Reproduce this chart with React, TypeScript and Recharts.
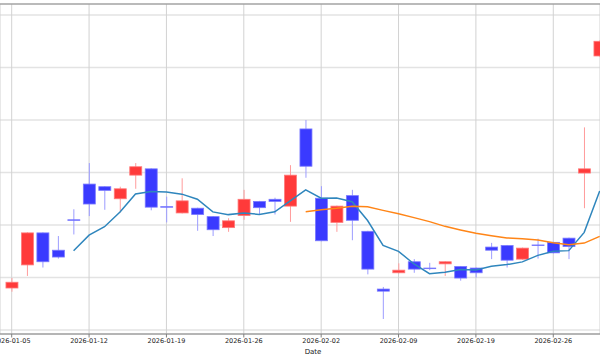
import React from 'react';
import {
  ComposedChart,
  Bar,
  Line,
  XAxis,
  YAxis,
  CartesianGrid,
  ReferenceLine
} from 'recharts';

// trading days shown on the chart
const dates = [
  '2026-01-05', '2026-01-06', '2026-01-07', '2026-01-08', '2026-01-09',
  '2026-01-12', '2026-01-13', '2026-01-14', '2026-01-15', '2026-01-16',
  '2026-01-19', '2026-01-20', '2026-01-21', '2026-01-22', '2026-01-23',
  '2026-01-26', '2026-01-27', '2026-01-28', '2026-01-29', '2026-01-30',
  '2026-02-02', '2026-02-03', '2026-02-04', '2026-02-05', '2026-02-06',
  '2026-02-09', '2026-02-10', '2026-02-11', '2026-02-12', '2026-02-13',
  '2026-02-19', '2026-02-20', '2026-02-23', '2026-02-24', '2026-02-25',
  '2026-02-26', '2026-02-27', '2026-03-02', '2026-03-03'
];

const open = [
  10.80, 11.24, 11.85, 11.52, 12.10, 12.78, 12.73, 12.50, 12.95, 13.07,
  12.35, 12.23, 12.32, 12.16, 11.95, 12.18, 12.45, 12.49, 12.36, 13.83,
  12.51, 12.05, 12.56, 11.88, 10.78, 11.09, 11.30, 11.18, 11.26, 11.21,
  11.18, 11.58, 11.61, 11.35, 11.62, 11.67, 11.75, 12.99, 15.22
];
const high = [
  10.99, 11.86, 11.86, 11.79, 12.30, 13.18, 12.74, 12.73, 13.18, 13.08,
  12.54, 12.89, 12.33, 12.17, 12.13, 12.67, 12.46, 12.52, 13.14, 14.00,
  12.74, 12.37, 12.67, 11.89, 10.82, 11.27, 11.35, 11.28, 11.31, 11.22,
  11.19, 11.66, 11.62, 11.57, 11.74, 11.68, 11.76, 13.86, 15.52
];
const low = [
  10.73, 11.03, 11.19, 11.36, 11.82, 12.17, 12.29, 12.24, 12.69, 12.28,
  12.05, 12.22, 11.89, 11.79, 11.87, 12.10, 12.21, 12.20, 12.06, 12.90,
  11.69, 11.87, 11.71, 11.06, 10.21, 11.08, 11.09, 11.14, 11.03, 10.94,
  11.00, 11.35, 11.19, 11.34, 11.36, 11.46, 11.35, 12.32, 15.20
];
const close = [
  10.91, 11.85, 11.30, 11.39, 12.09, 12.40, 12.66, 12.69, 13.11, 12.34,
  12.34, 12.46, 12.20, 11.91, 12.08, 12.49, 12.33, 12.45, 12.95, 13.12,
  11.70, 12.36, 12.09, 11.16, 10.74, 11.14, 11.16, 11.17, 11.30, 10.99,
  11.09, 11.52, 11.33, 11.56, 11.61, 11.47, 11.59, 13.07, 15.50
];

const xTicks = [0, 5, 10, 15, 20, 25, 30, 35];
const yTicks = [10, 11, 12, 13, 14, 15, 16];
const xDomain = [-0.756, 38.02];
const yDomain = [9.924, 16.21];

const movingAvg = (n: number) =>
  close.map((_, i) =>
    i < n - 1 ? null : close.slice(i - n + 1, i + 1).reduce((a, b) => a + b, 0) / n
  );

const ma5 = movingAvg(5);
const ma20 = movingAvg(20);

const data = dates.map((d, i) => ({
  i,
  date: d,
  open: open[i],
  high: high[i],
  low: low[i],
  close: close[i],
  range: [low[i], high[i]],
  ma5: ma5[i],
  ma20: ma20[i]
}));

const Candle = (props: any) => {
  const { x, y, width, height, payload } = props;
  if (!payload) return null;
  const top = Math.min(y, y + height);
  const h = Math.abs(height);
  const span = payload.high - payload.low;
  const toY = (v: number) => top + ((payload.high - v) / span) * h;
  const up = payload.close > payload.open;
  const cx = x + width / 2;
  const bodyTop = toY(Math.max(payload.open, payload.close));
  const bodyBot = toY(Math.min(payload.open, payload.close));
  const fill = up ? '#ff3a3a' : '#3a3aff';
  const edge = up ? '#ff7a7a' : '#7a7aff';
  const wick = up ? '#ff9c9c' : '#9c9cff';
  return (
    <g>
      <line x1={cx} x2={cx} y1={top} y2={top + h} stroke={wick} strokeWidth={1} />
      <rect
        x={x}
        y={bodyTop}
        width={width}
        height={Math.max(bodyBot - bodyTop, 0.6)}
        fill={fill}
        stroke={edge}
        strokeWidth={0.8}
      />
    </g>
  );
};

export default function App() {
  return (
    <div style={{ position: 'absolute', left: 0, top: 0, width: 600, height: 357, background: '#fff' }}>
      <ComposedChart
        width={600}
        height={357}
        data={data}
        margin={{ top: 4, right: 0, left: 0, bottom: 0 }}
      >
        <CartesianGrid vertical={false} stroke="#e3e3e3" strokeWidth={1.5} />
        <CartesianGrid horizontal={false} stroke="#d2d2d2" strokeWidth={1} />
        <XAxis
          dataKey="i"
          type="number"
          domain={xDomain}
          allowDataOverflow
          ticks={xTicks}
          interval={0}
          tickFormatter={(v: number) => dates[v] ?? ''}
          height={23}
          tickSize={3.5}
          tickMargin={1}
          stroke="#808080"
          tick={{ fontSize: 6.5, fill: '#222', fontFamily: 'DejaVu Sans' }}
          label={{
            value: 'Date',
            position: 'insideBottom',
            offset: 3,
            dx: 13,
            fontSize: 7,
            fill: '#222',
            fontFamily: 'DejaVu Sans'
          }}
        />
        <YAxis hide type="number" domain={yDomain} ticks={yTicks} allowDataOverflow />
        <ReferenceLine y={yDomain[1]} stroke="#8a8a8a" strokeWidth={1.2} />
        <Bar dataKey="range" barSize={12} shape={<Candle />} isAnimationActive={false} />
        <Line
          dataKey="ma5"
          type="linear"
          stroke="#2f86bd"
          strokeWidth={1.5}
          dot={false}
          connectNulls={false}
          isAnimationActive={false}
        />
        <Line
          dataKey="ma20"
          type="linear"
          stroke="#ff8517"
          strokeWidth={1.5}
          dot={false}
          connectNulls={false}
          isAnimationActive={false}
        />
      </ComposedChart>
    </div>
  );
}
